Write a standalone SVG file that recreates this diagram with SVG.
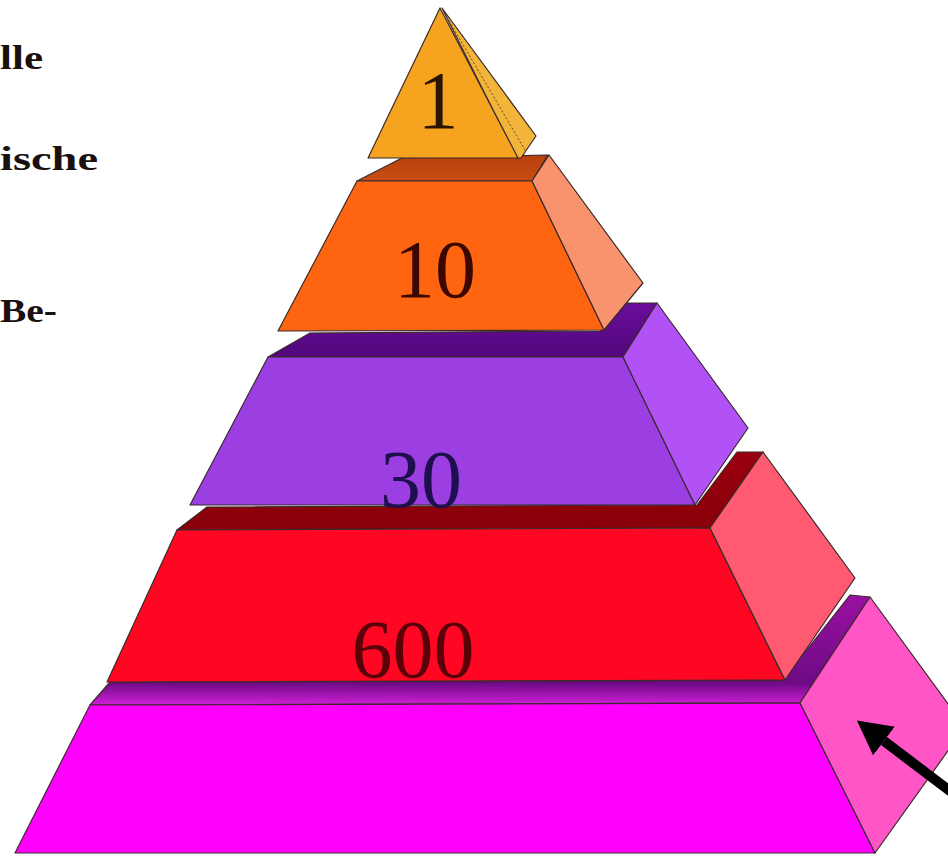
<svg xmlns="http://www.w3.org/2000/svg" width="948" height="856" viewBox="0 0 948 856">
<style>
  .edge { stroke: #3a2a2a; stroke-width: 1.2; stroke-linejoin: round; }
  .num { font-family: "Liberation Serif", "Times New Roman", serif; font-size: 82px; text-anchor: middle; }
  .side-text { font-family: "Liberation Serif", "Times New Roman", serif; font-size: 33px; font-weight: bold; fill: #1a1010; }
</style>
<defs>
  <linearGradient id="gTop2" x1="0" y1="0" x2="0" y2="1"><stop offset="0" stop-color="#B8400C"/><stop offset="1" stop-color="#C84E14"/></linearGradient>
  <linearGradient id="gTop3" x1="0" y1="0" x2="0" y2="1"><stop offset="0" stop-color="#6A0C9A"/><stop offset="1" stop-color="#52087E"/></linearGradient>
  <linearGradient id="gTop4" x1="0" y1="0" x2="0" y2="1"><stop offset="0" stop-color="#9A0010"/><stop offset="1" stop-color="#880008"/></linearGradient>
  <linearGradient id="gTop5" x1="0" y1="0" x2="0" y2="1"><stop offset="0" stop-color="#9A10A0"/><stop offset="0.8" stop-color="#6E0A86"/><stop offset="1" stop-color="#D020D8"/></linearGradient>
  <marker id="head" viewBox="0 0 34 36" refX="0" refY="18" markerWidth="34" markerHeight="36" markerUnits="userSpaceOnUse" orient="auto">
    <path d="M0,0 L34,18 L0,36 Z" fill="#000"/>
  </marker>
</defs>
<rect width="948" height="856" fill="#ffffff"/>

<g id="side-texts">
  <text class="side-text" x="0" y="69" textLength="43" lengthAdjust="spacingAndGlyphs">lle</text>
  <text class="side-text" x="0" y="170" textLength="98" lengthAdjust="spacingAndGlyphs">ische</text>
  <text class="side-text" x="0" y="322" textLength="57" lengthAdjust="spacingAndGlyphs">Be-</text>
</g>

<g id="tier5">
  <polygon class="edge" points="90,705 110,682 783,680 850,595 870,597 800,703" fill="url(#gTop5)"/>
  <polygon class="edge" points="90,705 800,703 875,853 15,853" fill="#FF00FF"/>
  <polygon class="edge" points="800,703 870,597 965,727 875,853" fill="#FF55C6"/>
</g>

<g id="tier4">
  <polygon class="edge" points="177,530 207,507 697,505 737,452 763,452 710,528" fill="url(#gTop4)"/>
  <polygon class="edge" points="177,530 710,528 785,680 107,682" fill="#FF0622"/>
  <polygon class="edge" points="710,528 763,452 855,578 785,680" fill="#FF5A72"/>
  <text class="num" x="413" y="677" fill="#5A0008">600</text>
</g>

<g id="tier3">
  <polygon class="edge" points="268,357 310,333 600,331 627,303 657,303 623,357" fill="url(#gTop3)"/>
  <polygon class="edge" points="268,357 623,357 695,505 190,505" fill="#9B3EE2"/>
  <polygon class="edge" points="623,357 657,303 748,428 695,505" fill="#B252F6"/>
  <text class="num" x="421" y="507" fill="#1E0F4E">30</text>
</g>

<g id="tier2">
  <polygon class="edge" points="357,181 402,158 548,155 532,181" fill="url(#gTop2)"/>
  <polygon class="edge" points="357,181 532,181 604,330 278,331" fill="#FF6510"/>
  <polygon class="edge" points="532,181 549,155 643,283 604,330" fill="#F8936E"/>
  <text class="num" x="435" y="297" fill="#3A0800">10</text>
</g>

<g id="tier1">
  <polygon class="edge" points="442,8 536,136 521,158 517,158" fill="#F2B53A"/>
  <line x1="445" y1="14" x2="525" y2="150" stroke="#6a4a10" stroke-width="1" stroke-dasharray="2,2"/>
  <polygon class="edge" points="368,158 440,8 518,158" fill="#F6A420"/>
  <text class="num" x="438" y="128" fill="#2A1400">1</text>
</g>

<g id="connectors">
  <line x1="975" y1="810" x2="884" y2="741" stroke="#000" stroke-width="10" marker-end="url(#head)"/>
</g>
</svg>
